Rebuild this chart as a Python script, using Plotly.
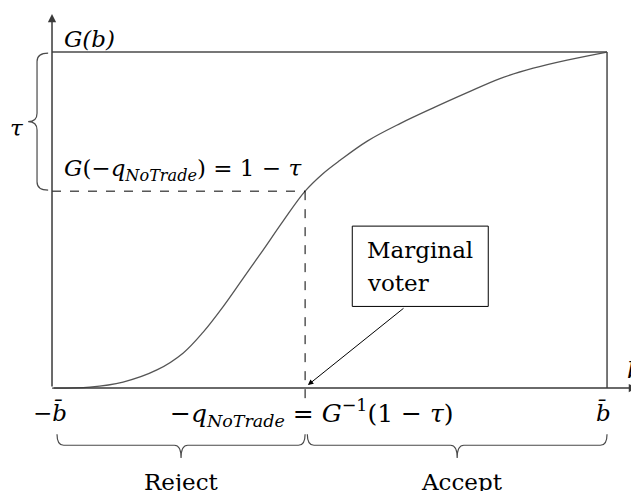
import plotly.graph_objects as go

# CDF G(b), b scaled so that -b_bar = 0 and b_bar = 1
b_vals = [0.0, 0.068, 0.128, 0.189, 0.236, 0.272, 0.308, 0.344, 0.380, 0.416, 0.456,
          0.488, 0.519, 0.568, 0.627, 0.686, 0.748, 0.807, 0.867, 0.928, 1.0]
g_vals = [0.0, 0.003, 0.018, 0.054, 0.104, 0.166, 0.242, 0.326, 0.410, 0.496, 0.586,
          0.638, 0.678, 0.735, 0.787, 0.833, 0.879, 0.921, 0.952, 0.976, 1.0]

b_low, b_high = 0.0, 1.0
q_cut = 0.456        # -q_NoTrade
g_cut = 0.586        # 1 - tau

SERIF = "DejaVu Serif"
GRAY = "#4a4a4a"

fig = go.Figure()
fig.add_trace(go.Scatter(
    x=b_vals, y=g_vals, mode="lines",
    line={"color": "#555555", "width": 1.3, "shape": "spline", "smoothing": 1.0},
    hoverinfo="skip", showlegend=False,
))

shapes = [
    # box
    {"type": "line", "x0": b_low, "x1": b_high, "y0": 1, "y1": 1, "line": {"color": GRAY, "width": 1.5}},
    {"type": "line", "x0": b_high, "x1": b_high, "y0": 0, "y1": 1, "line": {"color": GRAY, "width": 1.5}},
    # dashed guides
    {"type": "line", "x0": b_low, "x1": q_cut, "y0": g_cut, "y1": g_cut, "line": {"color": "black", "width": 1, "dash": "dash"}},
    {"type": "line", "x0": q_cut, "x1": q_cut, "y0": g_cut, "y1": -0.036, "line": {"color": "black", "width": 1, "dash": "dash"}},
    # marginal voter box
    {"type": "rect", "x0": 0.541, "x1": 0.786, "y0": 0.243, "y1": 0.482,
     "line": {"color": "black", "width": 1}, "fillcolor": "white"},
]


def hbrace(x0, x1, y_top, y_bar, y_tip, r=0.012):
    xm = (x0 + x1) / 2
    return (f"M {x0},{y_top} Q {x0},{y_bar} {x0 + r},{y_bar} L {xm - r},{y_bar} "
            f"Q {xm},{y_bar} {xm},{y_tip} Q {xm},{y_bar} {xm + r},{y_bar} "
            f"L {x1 - r},{y_bar} Q {x1},{y_bar} {x1},{y_top}")


def vbrace(y0, y1, x_end, x_bar, x_tip, r=0.025):
    ym = (y0 + y1) / 2
    return (f"M {x_end},{y1} Q {x_bar},{y1} {x_bar},{y1 - r} L {x_bar},{ym + r} "
            f"Q {x_bar},{ym} {x_tip},{ym} Q {x_bar},{ym} {x_bar},{ym - r} "
            f"L {x_bar},{y0 + r} Q {x_bar},{y0} {x_end},{y0}")


for path in (hbrace(b_low + 0.009, q_cut, -0.137, -0.170, -0.208),
             hbrace(q_cut + 0.004, b_high, -0.137, -0.170, -0.208),
             vbrace(g_cut + 0.003, 0.997, -0.007, -0.027, -0.043)):
    shapes.append({"type": "path", "path": path, "line": {"color": GRAY, "width": 1.2}})

fig.update_layout(shapes=shapes)

# axes with arrow heads
for x_end, y_end in ((1.054, 0.0), (0.0, 1.113)):
    fig.add_annotation(x=x_end, y=y_end, ax=0, ay=0, axref="x", ayref="y",
                       showarrow=True, arrowhead=2, arrowsize=1.1, arrowwidth=1.5,
                       arrowcolor="#3a3a3a", text="")

# marginal voter arrow
fig.add_annotation(x=0.461, y=0.009, ax=0.636, ay=0.241, axref="x", ayref="y",
                   showarrow=True, arrowhead=2, arrowsize=1.1, arrowwidth=1,
                   arrowcolor="black", text="")

math_font = {"family": SERIF, "size": 23, "color": "black"}
bottom_font = {"family": SERIF, "size": 25, "color": "black"}
text_font = {"family": SERIF, "size": 23, "color": "black"}

labels = [
    (0.018, 1.039, "<i>G(b)</i>", "left", math_font),
    (-0.063, 0.774, "<i>τ</i>", "center", math_font),
    (0.018, 0.649, "<i>G</i>(−<i>q<sub>NoTrade</sub></i>) = 1 − <i>τ</i>", "left", math_font),
    (-0.004, -0.074, "−<i>b̄</i>", "center", math_font),
    (0.993, -0.074, "<i>b̄</i>", "center", math_font),
    (0.4676, -0.074, "−<i>q<sub>NoTrade</sub></i> = <i>G</i><sup>−1</sup>(1 − <i>τ</i>)", "center", bottom_font),
    (1.032, 0.054, "<i>b</i>", "left", math_font),
    (0.234, -0.280, "Reject", "center", text_font),
    (0.739, -0.280, "Accept", "center", text_font),
    (0.564, 0.411, "Marginal", "left", text_font),
    (0.564, 0.313, "voter", "left", text_font),
]
for x, y, text, anchor, font in labels:
    fig.add_annotation(x=x, y=y, text=text, showarrow=False, xanchor=anchor,
                       yanchor="middle", font=font)

fig.update_layout(
    width=639, height=491,
    margin={"l": 0, "r": 0, "t": 0, "b": 0},
    paper_bgcolor="white", plot_bgcolor="white",
    xaxis={"range": [-0.0793, 1.072], "visible": False},
    yaxis={"range": [-0.330, 1.131], "visible": False},
    showlegend=False,
)

fig.write_html("out.html")
